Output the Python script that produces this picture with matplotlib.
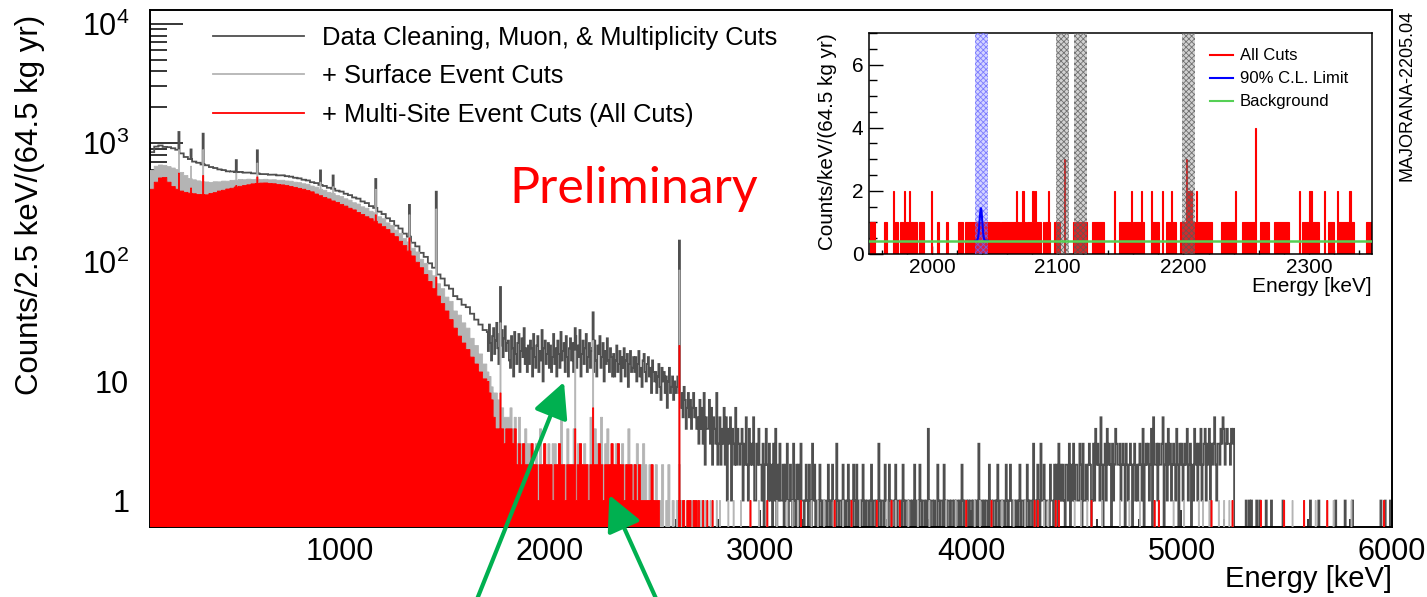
import numpy as np
import matplotlib
matplotlib.use("Agg")
import matplotlib.pyplot as plt
from matplotlib.lines import Line2D
from matplotlib.patches import FancyArrowPatch
from matplotlib.ticker import FixedLocator, FixedFormatter, MultipleLocator, NullFormatter

plt.rcParams['font.family'] = ['Liberation Sans', 'DejaVu Sans']
plt.rcParams['mathtext.fontset'] = 'custom'
plt.rcParams['mathtext.rm'] = 'Liberation Sans'
plt.rcParams['mathtext.it'] = 'Liberation Sans:italic'
plt.rcParams['mathtext.bf'] = 'Liberation Sans:bold'
plt.rcParams['hatch.linewidth'] = 0.6

# ---------------------------------------------------------------------------
# Energy spectrum, counts per 2.5 keV per (64.5 kg yr)
# 100-1700 keV continuum in 20 keV steps
dg_low = [840, 935, 955, 930, 925, 905, 880, 820, 765, 735,
          700, 684, 662, 652, 630, 618, 602, 594, 580, 578,
          571, 573, 565, 566, 558, 557, 550, 549, 543, 544,
          536, 537, 528, 523, 512, 506, 493, 486, 470, 462,
          446, 437, 422, 414, 399, 392, 376, 366, 350, 342,
          324, 314, 296, 286, 266, 254, 234, 222, 203, 192,
          174, 164, 146, 136, 120, 111, 98, 90, 79, 73,
          64, 60, 52, 49, 44, 42, 37, 33, 30, 27]
lg_low = [590, 640, 655, 650, 635, 618, 600, 568, 535, 505,
          492, 482, 474, 472, 468, 474, 473, 480, 479, 487,
          488, 496, 493, 498, 495, 498, 494, 497, 492, 493,
          488, 488, 481, 479, 470, 466, 456, 451, 436, 427,
          410, 402, 386, 377, 363, 356, 341, 332, 316, 308,
          292, 284, 268, 260, 241, 232, 214, 204, 186, 175,
          158, 148, 131, 122, 106, 98, 85, 77, 66, 60,
          51, 47, 39, 36, 31, 28, 23, 20, 17, 14]
red_low = [410, 470, 510, 515, 470, 432, 410, 396, 386, 380,
           376, 371, 370, 368, 378, 384, 396, 402, 412, 418,
           428, 434, 441, 447, 455, 459, 462, 463, 459, 456,
           450, 446, 440, 432, 425, 417, 410, 400, 390, 374,
           362, 350, 340, 327, 318, 306, 296, 284, 275, 262,
           252, 241, 232, 221, 210, 199, 188, 175, 164, 150,
           138, 124, 113, 100, 90, 79, 69, 60, 52, 45,
           39, 33, 28, 24, 21, 18.5, 16, 14, 12, 10.5]

# 1700-2700 keV: first cut stage in 5 keV steps
dg_mid = [26, 18, 30, 21, 15, 24, 28, 17, 22, 31, 19, 14, 25, 20, 27, 16, 23, 29, 18, 21,
          22, 15, 13, 24, 19, 11, 26, 17, 14, 21, 25, 12, 18, 23, 16, 28, 14, 19, 12, 20,
          14, 22, 19, 11, 25, 16, 13, 20, 24, 12, 18, 15, 27, 10, 19, 22, 14, 17, 21, 13,
          20, 12, 16, 25, 14, 19, 11, 22, 17, 13, 26, 15, 18, 21, 12, 24, 16, 11, 19, 23,
          15, 21, 12, 18, 24, 13, 20, 16, 27, 11, 17, 22, 14, 19, 25, 12, 16, 21, 13, 18,
          19, 12, 22, 15, 11, 20, 17, 24, 13, 16, 21, 10, 18, 14, 23, 15, 12, 19, 16, 11,
          17, 11, 15, 20, 12, 14, 18, 10, 16, 13, 19, 11, 15, 17, 9, 14, 18, 12, 13, 16,
          12, 16, 10, 14, 18, 11, 13, 9, 15, 17, 12, 10, 14, 16, 11, 13, 8, 15, 12, 10,
          12, 8, 11, 14, 9, 7, 13, 10, 12, 8, 11, 6, 10, 13, 8, 9, 11, 7, 10, 8,
          9, 11, 8, 7, 6, 8, 5, 9, 7, 4, 6, 8, 5, 7, 4, 6, 8, 5, 6, 4]
# 1700-2700 keV: later cut stages in 10 keV steps
lg_mid = [12, 11, 9, 8, 8, 7, 6, 6, 5, 5,
          5, 6, 4, 5, 3, 5, 3, 3, 4, 3,
          3, 3, 2, 3, 2, 4, 2, 3, 2, 3,
          2, 3, 3, 2, 3, 5, 2, 2, 4, 2,
          2, 4, 2, 3, 3, 2, 3, 2, 2, 5,
          2, 4, 3, 3, 5, 2, 3, 4, 2, 3,
          2, 3, 3, 2, 3, 2, 2, 4, 2, 2,
          2, 3, 2, 2, 3, 2, 1, 2, 2, 1,
          2, 1, 1, 2, 0, 1, 2, 0, 1, 0,
          1, 2, 1, 1, 0, 1, 1, 1, 1, 1]
red_mid = [10, 8, 7, 5, 4, 4, 4, 4, 3, 4,
           4, 4, 3, 4, 2, 3, 2, 3, 2, 2,
           2, 3, 2, 2, 1, 2, 2, 3, 2, 2,
           2, 1, 2, 2, 3, 2, 2, 1, 2, 2,
           2, 2, 1, 2, 3, 2, 2, 2, 1, 2,
           2, 2, 2, 3, 2, 1, 2, 2, 2, 3,
           2, 2, 3, 2, 2, 1, 2, 2, 2, 1,
           2, 1, 2, 1, 1, 1, 1, 1, 2, 1,
           1, 1, 0, 0, 0, 0, 0, 0, 0, 0,
           0, 1, 0, 1, 0, 1, 1, 0, 1, 1]

# 2700-6000 keV in 5 keV steps (one digit per step)
dg_tail = ("53746382544736254382" "35243625143514326243" "23413252142325113242"
           "21302421312031402131" "12021301210310212031" "10121021031201102101"
           "01102101201031011020" "10120110210201101201" "01101201101031011021"
           "10210110201101021011" "01101020110210110104" "10110100210110201011"
           "01101011010210110101" "10110103011010110201" "01101201101102101210"
           "11010120110102101103" "10121031120111021102" "12031212102213021312"
           "21132031121232013142" "32152023142320312432" "23123203212320231212"
           "32140232312405223132" "23502314231232142032" "31232412302142313241"
           "23413240323521332435" "42343324340000000000" "01001010000100100000"
           "10000100000000001000" "00000000000000000000" "00100000001000000000"
           "00000010000000010000" "00100000000000000000" "00000000010001000010")
red_tail_keV = [2705, 2725, 2745, 2770, 2950, 3030, 3190, 3350, 3430, 3550, 3620,
                3660, 3975, 4095, 4300, 4315, 4400, 4415, 4570, 4870, 4890, 5140,
                5240, 5375, 5485, 5580, 5690, 5960]
surface_only_tail_keV = [2715, 2735, 2760, 2790, 2805, 2845, 2870, 2905, 2990, 3075,
                         3125, 3150, 3175, 3240, 3270, 3300, 3345, 3390, 3470, 3600,
                         3640, 3700, 3745, 3800, 3880, 3925, 4015, 4040, 4145, 4200,
                         4255, 4345, 4365, 4490, 4520, 4550, 4620, 4705, 4750, 4800,
                         4960, 5010, 5080, 5100, 5130, 5175, 5200, 5225, 5525, 5635,
                         5720, 5805]

# gamma lines: energy, height after each cut stage
peak_keV = [238, 295, 352, 511, 609, 911, 969, 1173, 1332, 1461, 1764, 2119, 2204, 2614]
peak_dg = [1240, 885, 1200, 720, 870, 590, 535, 500, 303, 391, 62, 28, 38, 152]
peak_lg = [880, 640, 880, 560, 680, 470, 430, 410, 250, 280, 31, 18, 22, 86]
peak_red = [560, 420, 534, 440, 520, 340, 320, 250, 160, 75, 8, 4, 6, 20]

# Inset: all-cuts counts per keV, 1950-2350 keV (one digit per keV)
inset_counts = ("0111100000" "0011000002" "0110011021" "1121111100" "1111000002"
                "0000110000" "0110000000" "0111101111" "1111111111" "1111111111"
                "1111011111" "1111111210" "1021101111" "2121111010" "1121000111"
                "1100030000" "0011011111" "1110000111" "1111111000" "0000020001"
                "1111111120" "1111112110" "0000211111" "1002001111" "2111000111"
                "1030202111" "2111111111" "1110000000" "1111111111" "1200000111"
                "1111111400" "0111111100" "0011111111" "1111000000" "0020111111"
                "2211111100" "0020011111" "0021111111" "1121110000" "0000011111")
roi_band_keV = (2034.5, 2044.5)
gamma_bands_keV = [(2099.0, 2109.0), (2113.0, 2123.0), (2199.0, 2209.0)]
bkg_level = 0.42
limit_center_keV = 2039.0
limit_amplitude = 1.03
limit_sigma_keV = 1.05

# ---------------------------------------------------------------------------
DG_COLOR = '#4f4f4f'
LG_COLOR = '#b4b4b4'
RED = '#ff0000'
FLOOR = 0.1

low_edges = np.arange(100, 1700, 20)
tail_edges = np.arange(2700, 6001, 5)
dg_edges = np.concatenate([low_edges, np.arange(1700, 2700, 5), tail_edges]).astype(float)
cut_edges = np.concatenate([low_edges, np.arange(1700, 2700, 10), tail_edges]).astype(float)

n_tail = len(dg_tail)
tail_red = np.zeros(n_tail)
tail_lg = np.zeros(n_tail)
for e in red_tail_keV:
    tail_red[(e - 2700) // 5] = 1
for e in list(red_tail_keV) + list(surface_only_tail_keV):
    tail_lg[(e - 2700) // 5] = 1
tail_dg = np.array([int(c) for c in dg_tail], dtype=float)

dg_coarse = np.concatenate([dg_low, dg_mid, tail_dg])
lg_coarse = np.concatenate([lg_low, lg_mid, tail_lg])
red_coarse = np.concatenate([red_low, red_mid, tail_red])

# place everything on the native 2.5 keV binning
fine_edges = np.arange(100, 6000 + 1.25, 2.5)
centers = fine_edges[:-1] + 1.25


def on_fine(coarse, edges, peaks):
    idx = np.searchsorted(edges, centers, side='right') - 1
    vals = np.asarray(coarse, dtype=float)[idx].copy()
    for e, h in zip(peak_keV, peaks):
        sel = np.abs(centers - e) <= 2.5
        vals[sel] = np.maximum(vals[sel], h)
    return np.where(vals > 0, vals, FLOOR)


dg = on_fine(dg_coarse, dg_edges, peak_dg)
lg = on_fine(lg_coarse, cut_edges, peak_lg)
red = on_fine(red_coarse, cut_edges, peak_red)

fig = plt.figure(figsize=(14.27, 5.97), dpi=100)
ax = fig.add_axes([150 / 1427, 1 - 527 / 597, 1242 / 1427, 517 / 597])

ax.stairs(dg, fine_edges, color=DG_COLOR, lw=1.3, baseline=None, zorder=2)
ax.stairs(lg, fine_edges, fill=True, facecolor=LG_COLOR, edgecolor=LG_COLOR,
          lw=0.6, baseline=FLOOR, zorder=3)
ax.stairs(red, fine_edges, fill=True, facecolor=RED, edgecolor=RED,
          lw=0.6, baseline=FLOOR, zorder=4)

ax.set_yscale('log')
ax.set_xlim(100, 6000)
ax.set_ylim(0.6, 1.31e4)

ax.yaxis.set_major_locator(FixedLocator([1, 10, 100, 1000, 10000]))
ax.yaxis.set_major_formatter(FixedFormatter(
    ['1', '10', r'$\mathregular{10^{2}}$', r'$\mathregular{10^{3}}$', r'$\mathregular{10^{4}}$']))
ax.yaxis.set_minor_locator(FixedLocator(
    [k * 10.0 ** d for d in range(-1, 5) for k in range(2, 10)]))
ax.yaxis.set_minor_formatter(NullFormatter())
ax.xaxis.set_major_locator(MultipleLocator(1000))
ax.xaxis.set_minor_locator(MultipleLocator(200))
ax.tick_params(axis='y', which='major', direction='in', length=24, width=1.1,
               labelsize=22, pad=15, right=False)
ax.tick_params(axis='y', which='minor', direction='in', length=12, width=1.1, right=False)
ax.tick_params(axis='x', which='major', direction='in', length=12, width=1.1,
               labelsize=22, pad=7, top=False)
ax.tick_params(axis='x', which='minor', direction='in', length=6, width=1.1, top=False)
for s in ax.spines.values():
    s.set_linewidth(1.4)

ax.set_ylabel('Counts/2.5 keV/(64.5 kg yr)', fontsize=22.5)
ax.yaxis.set_label_coords(-0.0845, 0.623)
ax.set_xlabel('Energy [keV]', fontsize=21, ha='right', va='center')
ax.xaxis.set_label_coords(1.0, -0.10)

handles = [Line2D([], [], color=DG_COLOR, lw=1.3),
           Line2D([], [], color=LG_COLOR, lw=1.3),
           Line2D([], [], color=RED, lw=1.3)]
labels = ['Data Cleaning, Muon, & Multiplicity Cuts', '+ Surface Event Cuts',
          '+ Multi-Site Event Cuts (All Cuts)']
ax.legend(handles, labels, loc='upper left', bbox_to_anchor=(0.0507, 0.969),
          frameon=False, fontsize=18.4, handlelength=3.55, handletextpad=0.7,
          labelspacing=0.56, borderpad=0, borderaxespad=0)

fig.text(634 / 1427, 1 - 203 / 597, 'Preliminary', color=RED, fontsize=36,
         family='Lato', fontweight='normal', ha='center', va='baseline')
fig.text(1407 / 1427, 1 - 10 / 597, 'MAJORANA-2205.04', rotation=90, fontsize=13,
         ha='center', va='top')

# ---------------------------------------------------------------------------
axin = fig.add_axes([869 / 1427, 1 - 254 / 597, 503 / 1427, 221 / 597])
axin.set_zorder(5)
axin.set_facecolor('white')
counts = np.array([int(c) for c in inset_counts], dtype=float)
inset_edges = np.arange(1950, 1950 + len(counts) + 1, 1.0)
axin.stairs(counts, inset_edges, fill=True, facecolor=RED, edgecolor=RED, lw=0.8, zorder=2)
for lo, hi in gamma_bands_keV:
    axin.axvspan(lo, hi, facecolor=(0.5, 0.5, 0.5, 0.35), edgecolor=(0.35, 0.35, 0.35, 0.8),
                 hatch='xxxxxx', lw=0, zorder=3)
axin.axvspan(*roi_band_keV, facecolor=(0.45, 0.45, 1.0, 0.3), edgecolor=(0.4, 0.4, 1.0, 0.8),
             hatch='xxxxxx', lw=0, zorder=3)
e_lim = np.linspace(roi_band_keV[0], roi_band_keV[1], 300)
axin.plot(e_lim, bkg_level + limit_amplitude * np.exp(-0.5 * ((e_lim - limit_center_keV) / limit_sigma_keV) ** 2),
          color='#0000ff', lw=1.5, zorder=4)
axin.axhline(bkg_level, color='#55d055', lw=1.8, zorder=5)
axin.set_xlim(1950, 2350)
axin.set_ylim(0, 7)
axin.xaxis.set_major_locator(MultipleLocator(100))
axin.xaxis.set_minor_locator(MultipleLocator(20))
axin.yaxis.set_major_locator(FixedLocator([0, 2, 4, 6]))
axin.yaxis.set_minor_locator(MultipleLocator(0.5))
axin.tick_params(axis='both', which='major', direction='in', labelsize=15, width=1.0)
axin.tick_params(axis='x', which='major', length=6, pad=3, top=False)
axin.tick_params(axis='x', which='minor', length=3, width=1.0, top=False, direction='in')
axin.tick_params(axis='y', which='major', length=10, pad=4, right=False)
axin.tick_params(axis='y', which='minor', length=5.5, width=1.0, right=False, direction='in')
for s in axin.spines.values():
    s.set_linewidth(1.1)
axin.set_ylabel('Counts/keV/(64.5 kg yr)', fontsize=14.9)
axin.yaxis.set_label_coords(-0.0636, 0.507)
axin.set_xlabel('Energy [keV]', fontsize=15, ha='right', va='center')
axin.xaxis.set_label_coords(1.0, -0.149)
inset_handles = [Line2D([], [], color=RED, lw=1.5), Line2D([], [], color='#0000ff', lw=1.5),
                 Line2D([], [], color='#55d055', lw=1.5)]
axin.legend(inset_handles, ['All Cuts', '90% C.L. Limit', 'Background'], loc='upper left',
            bbox_to_anchor=(0.678, 0.93), frameon=False, fontsize=12,
            handlelength=1.4, handletextpad=0.4, labelspacing=0.48, borderpad=0,
            borderaxespad=0)

# annotation arrows from below the frame
arrow_color = '#00b050'
for tail, tip in [((476.7, 600), (564, 382)), ((656.7, 600), (609.3, 495))]:
    fig.add_artist(FancyArrowPatch(
        (tail[0] / 1427, 1 - tail[1] / 597), (tip[0] / 1427, 1 - tip[1] / 597),
        transform=fig.transFigure, arrowstyle='-|>,head_length=0.9,head_width=0.45',
        mutation_scale=24, lw=3, color=arrow_color, shrinkA=0, shrinkB=0, zorder=10))

fig.savefig('out.png', dpi=100, facecolor='white')
